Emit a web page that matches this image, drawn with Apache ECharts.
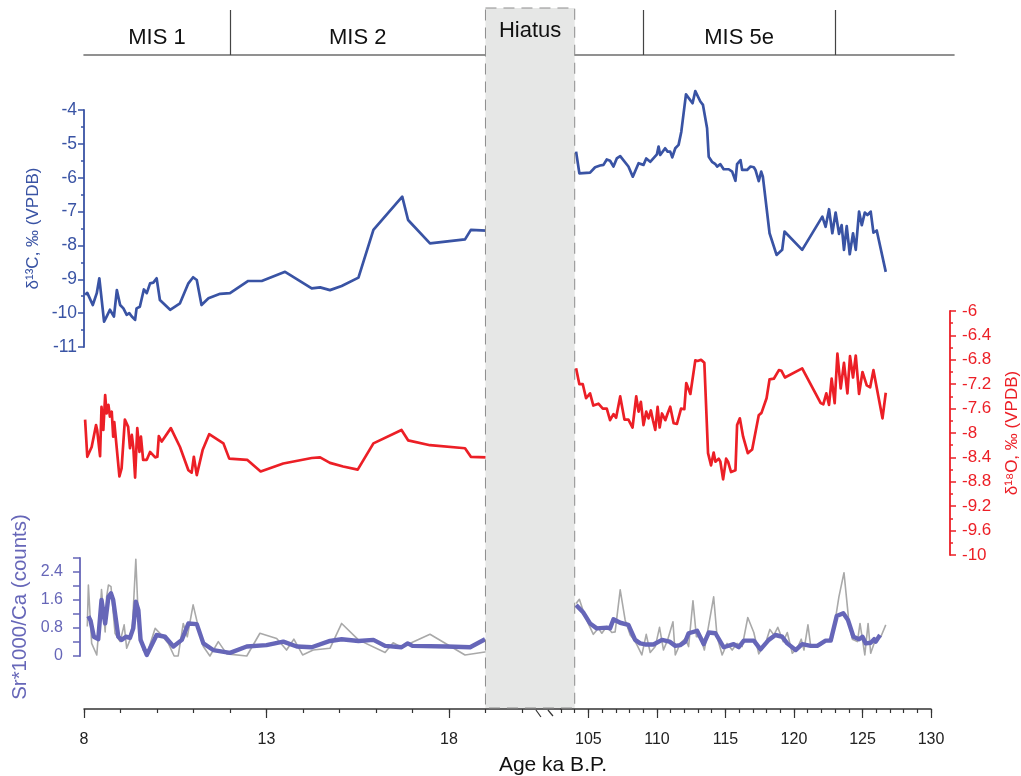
<!DOCTYPE html>
<html>
<head>
<meta charset="utf-8">
<title>Speleothem isotopes and Sr/Ca</title>
<script src="https://cdn.jsdelivr.net/npm/echarts@6/dist/echarts.min.js"></script>
<style>
html, body { margin: 0; padding: 0; background: #fff; }
#main { width: 1021px; height: 776px; }
</style>
</head>
<body>
<div id="main"></div>
<script>
// ages in ka B.P.
var c13LeftAge = [8.03, 8.09, 8.24, 8.35, 8.42, 8.55, 8.62, 8.71, 8.82, 8.90, 8.99, 9.08, 9.17, 9.24, 9.31, 9.40, 9.44, 9.53, 9.64, 9.72, 9.81, 9.90, 9.99, 10.08, 10.36, 10.63, 10.86, 10.99, 11.09, 11.22, 11.41, 11.73, 12.0, 12.5, 12.87, 13.51, 14.24, 14.47, 14.74, 15.06, 15.52, 15.93, 16.72, 16.88, 17.48, 18.44, 18.6, 19.03];
var c13LeftVal = [-9.46, -9.40, -9.76, -9.41, -8.97, -10.25, -10.1, -9.9, -10.1, -9.32, -9.76, -9.86, -10.05, -10.0, -10.1, -10.2, -9.86, -9.81, -9.3, -9.41, -9.12, -9.1, -8.97, -9.61, -9.9, -9.71, -9.12, -8.94, -9.02, -9.76, -9.56, -9.43, -9.41, -9.05, -9.05, -8.78, -9.27, -9.24, -9.32, -9.2, -8.95, -7.54, -6.56, -7.25, -7.94, -7.82, -7.54, -7.56];

var c13RightAge = [104.1, 104.34, 105.12, 105.49, 105.85, 106.1, 106.34, 106.58, 106.83, 107.07, 107.32, 107.92, 108.24, 108.66, 109.02, 109.22, 109.51, 110.0, 110.12, 110.24, 110.6, 110.78, 110.97, 111.12, 111.34, 111.58, 111.78, 112.12, 112.6, 112.8, 113.17, 113.36, 113.66, 113.78, 114.02, 114.27, 114.39, 114.63, 114.87, 115.24, 115.49, 115.73, 115.85, 116.1, 116.22, 116.58, 116.83, 117.07, 117.19, 117.43, 117.61, 117.73, 118.22, 118.73, 119.14, 119.31, 120.6, 122.07, 122.31, 122.56, 122.8, 123.04, 123.29, 123.48, 123.65, 123.85, 124.07, 124.31, 124.51, 124.75, 124.95, 125.17, 125.36, 125.6, 125.8, 126.04, 126.7];
var c13RightVal = [-5.23, -5.87, -5.85, -5.69, -5.64, -5.62, -5.46, -5.5, -5.67, -5.43, -5.36, -5.67, -5.97, -5.57, -5.62, -5.43, -5.53, -5.31, -5.08, -5.33, -5.13, -5.23, -5.23, -5.4, -5.13, -5.03, -4.64, -3.54, -3.8, -3.44, -3.75, -3.85, -4.54, -5.38, -5.53, -5.6, -5.67, -5.6, -5.75, -5.75, -5.82, -6.09, -5.6, -5.48, -5.77, -5.77, -5.67, -5.69, -5.77, -6.1, -5.82, -5.97, -7.64, -8.28, -8.13, -7.59, -8.13, -7.15, -7.45, -6.93, -7.64, -7.03, -7.66, -7.4, -8.13, -7.43, -8.26, -7.64, -8.13, -7.0, -7.4, -7.03, -7.1, -7.0, -7.62, -7.56, -8.78];

var o18LeftAge = [8.03, 8.09, 8.21, 8.33, 8.36, 8.44, 8.48, 8.53, 8.58, 8.62, 8.67, 8.71, 8.76, 8.80, 8.83, 8.97, 9.03, 9.12, 9.21, 9.26, 9.31, 9.35, 9.40, 9.46, 9.52, 9.56, 9.62, 9.72, 9.81, 9.95, 10.01, 10.05, 10.13, 10.38, 10.63, 10.86, 10.95, 11.01, 11.09, 11.25, 11.43, 11.82, 11.98, 12.47, 12.84, 13.46, 14.24, 14.47, 14.74, 15.1, 15.5, 15.93, 16.7, 16.88, 17.48, 18.44, 18.6, 19.03];
var o18LeftVal = [-7.78, -8.39, -8.23, -7.87, -7.95, -8.38, -7.57, -7.95, -7.38, -7.68, -7.54, -7.73, -7.65, -8.06, -7.82, -8.71, -8.58, -7.78, -7.9, -8.25, -8.03, -8.23, -8.73, -7.92, -8.31, -8.06, -8.44, -8.44, -8.31, -8.4, -8.39, -8.05, -8.14, -7.92, -8.23, -8.61, -8.65, -8.39, -8.69, -8.28, -8.02, -8.17, -8.42, -8.44, -8.63, -8.5, -8.41, -8.4, -8.49, -8.55, -8.6, -8.17, -7.95, -8.12, -8.2, -8.25, -8.39, -8.4];

var o18RightAge = [104.1, 104.34, 104.59, 104.83, 105.12, 105.36, 105.73, 106.05, 106.34, 106.58, 106.83, 107.02, 107.32, 107.63, 107.92, 108.22, 108.49, 108.66, 108.83, 109.02, 109.22, 109.39, 109.56, 109.71, 109.88, 110.05, 110.2, 110.37, 110.61, 110.78, 110.97, 111.22, 111.46, 111.76, 112.0, 112.14, 112.44, 112.8, 112.97, 113.22, 113.46, 113.73, 113.95, 114.14, 114.27, 114.51, 114.63, 114.83, 115.05, 115.19, 115.41, 115.73, 115.85, 116.05, 116.29, 116.63, 116.95, 117.43, 117.63, 118.0, 118.22, 118.53, 118.9, 119.09, 119.34, 120.6, 121.95, 122.14, 122.36, 122.56, 122.75, 122.97, 123.17, 123.41, 123.65, 123.9, 124.09, 124.31, 124.51, 124.75, 125.0, 125.31, 125.56, 125.8, 126.46, 126.7];
var o18RightVal = [-6.94, -7.2, -7.2, -7.43, -7.35, -7.55, -7.52, -7.6, -7.6, -7.79, -7.69, -7.75, -7.4, -7.78, -7.78, -7.91, -7.4, -7.65, -7.49, -7.87, -7.65, -7.76, -7.63, -7.79, -7.95, -7.57, -7.91, -7.68, -7.79, -7.68, -7.57, -7.84, -7.85, -7.6, -7.61, -7.18, -7.36, -6.81, -6.82, -6.8, -6.85, -8.33, -8.53, -8.32, -8.47, -8.42, -8.47, -8.76, -8.42, -8.47, -8.64, -8.61, -7.87, -7.76, -8.06, -8.33, -8.27, -7.71, -7.67, -7.43, -7.12, -7.11, -6.97, -6.98, -7.09, -6.94, -7.51, -7.53, -7.35, -7.54, -7.11, -7.51, -6.7, -7.27, -6.85, -7.35, -6.74, -7.09, -6.73, -7.36, -7.0, -7.22, -7.25, -6.97, -7.76, -7.34];

var srRawLeftAge = [8.09, 8.12, 8.21, 8.35, 8.44, 8.48, 8.58, 8.62, 8.67, 8.74, 8.85, 8.99, 9.10, 9.17, 9.26, 9.33, 9.42, 9.49, 9.62, 9.76, 9.95, 10.08, 10.31, 10.47, 10.58, 10.72, 10.83, 10.99, 11.13, 11.27, 11.45, 11.68, 11.91, 12.46, 12.82, 13.28, 13.55, 13.75, 13.99, 14.28, 14.74, 15.06, 15.52, 16.25, 16.47, 16.7, 17.48, 18.44, 19.03];
var srRawLeftVal = [0.84, 2.03, 0.36, 0.03, 1.22, 1.9, 0.69, 1.69, 2.03, 1.98, 0.65, 0.41, 0.89, 0.22, 0.46, 0.93, 2.76, 1.03, 0.17, 0.17, 0.79, 0.65, 0.36, 0.0, 0.0, 0.93, 0.55, 1.46, 0.84, 0.27, 0.0, 0.41, 0.06, 0.0, 0.65, 0.5, 0.17, 0.48, 0.03, 0.17, 0.22, 0.93, 0.46, 0.1, 0.38, 0.25, 0.62, 0.03, 0.12];

var srSmoothLeftAge = [8.12, 8.18, 8.27, 8.39, 8.48, 8.58, 8.67, 8.74, 8.80, 8.94, 9.03, 9.15, 9.26, 9.35, 9.42, 9.49, 9.55, 9.72, 9.99, 10.22, 10.45, 10.68, 10.86, 11.09, 11.27, 11.54, 12.0, 12.46, 13.0, 13.46, 13.83, 14.24, 14.74, 15.06, 15.52, 15.93, 16.25, 16.7, 16.87, 17.0, 17.94, 18.58, 18.99];
var srSmoothLeftVal = [1.14, 1.01, 0.55, 0.48, 1.6, 0.93, 1.69, 1.79, 1.6, 0.55, 0.46, 0.55, 0.52, 0.79, 1.55, 1.31, 0.46, 0.03, 0.6, 0.55, 0.27, 0.46, 0.93, 0.91, 0.36, 0.17, 0.09, 0.27, 0.31, 0.41, 0.27, 0.25, 0.43, 0.48, 0.43, 0.46, 0.29, 0.25, 0.36, 0.29, 0.27, 0.25, 0.48];

var srRawRightAge = [104.1, 104.34, 104.76, 105.36, 105.73, 105.98, 106.34, 106.71, 106.95, 107.32, 107.68, 108.05, 108.34, 108.58, 108.9, 109.22, 109.51, 109.88, 110.19, 110.48, 110.78, 111.17, 111.34, 111.7, 112.07, 112.31, 112.63, 112.88, 113.17, 113.46, 114.14, 114.39, 114.76, 115.12, 115.49, 115.85, 116.22, 116.63, 117.07, 117.43, 117.92, 118.24, 118.53, 118.82, 119.22, 119.51, 119.88, 120.24, 120.53, 120.73, 121.02, 121.22, 121.46, 121.95, 122.31, 122.8, 123.28, 123.65, 124.02, 124.26, 124.63, 124.82, 125.17, 125.41, 125.6, 125.97, 126.34, 126.7];
var srRawRightVal = [1.5, 1.62, 1.12, 0.62, 0.79, 0.65, 0.84, 0.67, 0.69, 1.89, 1.03, 0.6, 0.46, 0.29, 0.03, 0.62, 0.1, 0.27, 0.82, 0.17, 0.46, 0.98, 0.03, 0.36, 0.5, 0.27, 1.58, 0.55, 0.55, 0.17, 1.69, 0.55, 0.03, 0.36, 0.17, 0.36, 0.27, 1.1, 0.67, 0.06, 0.36, 0.76, 0.6, 0.82, 0.41, 0.67, 0.08, 0.22, 0.48, 0.17, 0.89, 0.29, 0.25, 0.31, 0.44, 0.5, 1.69, 2.38, 0.93, 0.48, 0.41, 0.93, 0.03, 0.93, 0.08, 0.5, 0.55, 0.89];

var srSmoothRightAge = [104.1, 104.63, 105.12, 105.61, 106.34, 106.58, 106.83, 107.32, 107.92, 108.41, 108.78, 109.14, 109.75, 110.37, 110.92, 111.34, 111.7, 112.07, 112.31, 112.93, 113.41, 113.78, 114.27, 114.87, 115.6, 115.97, 116.34, 117.07, 117.56, 118.16, 118.65, 119.14, 119.51, 120.12, 120.6, 121.22, 121.7, 122.31, 122.68, 123.12, 123.6, 123.94, 124.34, 124.75, 125.0, 125.24, 125.6, 125.85, 125.97, 126.28];
var srSmoothRightVal = [1.46, 1.24, 0.93, 0.79, 0.81, 0.79, 1.05, 0.95, 0.89, 0.46, 0.36, 0.33, 0.33, 0.46, 0.41, 0.29, 0.31, 0.41, 0.65, 0.72, 0.34, 0.67, 0.65, 0.25, 0.34, 0.25, 0.44, 0.44, 0.19, 0.46, 0.6, 0.55, 0.36, 0.17, 0.34, 0.29, 0.29, 0.44, 0.44, 1.14, 1.22, 1.03, 0.55, 0.48, 0.55, 0.36, 0.38, 0.48, 0.41, 0.6];

// marine isotope stages, hiatus, tick labels
var misBoundLeft = [12];
var misBoundRight = [109, 123];
var misZones = [
  { name: 'MIS 1', from: 8, to: 12, side: 0 },
  { name: 'MIS 2', from: 12, to: 19, side: 0 },
  { name: 'MIS 5e', from: 109, to: 123, side: 1 }
];
var hiatusFrom = 19, hiatusTo = 104;
var xLabelsLeft = [8, 13, 18];
var xLabelsRight = [105, 110, 115, 120, 125, 130];

var C13 = '#3953a4', O18 = '#ec1f26', SR = '#6666b8', RAW = '#a9a9a9', AX = '#333';
var FONT = 'Liberation Sans, Arial, sans-serif';

function zip(a, b) {
  var out = [];
  for (var i = 0; i < a.length; i++) out.push([a[i], b[i]]);
  return out;
}
function range(a, b) {
  var out = [];
  for (var v = a; v <= b; v++) out.push(v);
  return out;
}

// layout: left piece 8..21.07 ka (36.5 px/ka), right piece 103..130 ka (13.7 px/ka)
var L = { left: 84, width: 477, min: 8, max: 21.07 };
var R = { left: 561, width: 370, min: 103, max: 130 };
var rows = {
  band: { top: 10, height: 45 },
  c13: { top: 110, height: 237 },
  o18: { top: 311, height: 244 },
  sr: { top: 558, height: 98 }
};

var myChart = echarts.init(document.getElementById('main'));

var grid = [], xAxis = [], yAxis = [];
['band', 'c13', 'o18', 'sr'].forEach(function (k) {
  var r = rows[k];
  grid.push({ left: L.left, width: L.width, top: r.top, height: r.height, outerBoundsMode: 'none' });
  grid.push({ left: R.left, width: k === 'band' ? 393 : R.width, top: r.top, height: r.height, outerBoundsMode: 'none' });
});

function hiddenX(gi, seg) {
  return { type: 'value', gridIndex: gi, min: seg.min, max: seg.max, show: false, axisLine: { onZero: false } };
}
// band axes (horizontal rule under MIS labels)
var bandLine = { show: true, onZero: false, lineStyle: { color: '#6e6e6e', width: 1.6 } };
xAxis.push({ type: 'value', gridIndex: 0, min: L.min, max: L.max, axisLine: bandLine, axisTick: { show: false }, axisLabel: { show: false }, splitLine: { show: false } });
xAxis.push({ type: 'value', gridIndex: 1, min: R.min, max: R.min + 393 / 13.7, axisLine: bandLine, axisTick: { show: false }, axisLabel: { show: false }, splitLine: { show: false } });
xAxis.push(hiddenX(2, L), hiddenX(3, R), hiddenX(4, L), hiddenX(5, R));
// bottom age axis: short ticks every 1 ka
[[6, L, range(8, 20)], [7, R, range(103, 130)]].forEach(function (d) {
  xAxis.push({
    type: 'value', gridIndex: d[0], min: d[1].min, max: d[1].max, position: 'bottom', offset: 53,
    axisLine: { show: true, onZero: false, lineStyle: { color: AX, width: 1.5 } },
    axisTick: { show: true, length: 4, customValues: d[2], lineStyle: { color: AX, width: 1.2 } },
    axisLabel: { show: false }, splitLine: { show: false }
  });
});
// long ticks with labels
[[6, L, xLabelsLeft], [7, R, xLabelsRight]].forEach(function (d) {
  xAxis.push({
    type: 'value', gridIndex: d[0], min: d[1].min, max: d[1].max, position: 'bottom', offset: 53,
    axisLine: { show: false, onZero: false },
    axisTick: { show: true, length: 9, customValues: d[2], lineStyle: { color: AX, width: 1.2 } },
    axisLabel: { show: true, customValues: d[2], margin: 23, color: '#222', fontSize: 16, fontFamily: FONT },
    splitLine: { show: false }
  });
});

function hiddenY(gi, min, max) {
  return { type: 'value', gridIndex: gi, min: min, max: max, show: false, splitLine: { show: false } };
}
yAxis.push(hiddenY(0, 0, 1), hiddenY(1, 0, 1));
yAxis.push({
  type: 'value', gridIndex: 2, min: -11, max: -4, interval: 1, position: 'left',
  axisLine: { show: true, lineStyle: { color: C13, width: 1.8 } },
  axisTick: { show: true, length: 6, lineStyle: { color: C13, width: 1.5 } },
  minorTick: { show: true, splitNumber: 2, length: 3, lineStyle: { color: C13, width: 1.5 } },
  axisLabel: { color: C13, fontSize: 17.5, margin: 7, fontFamily: FONT },
  splitLine: { show: false },
  name: 'δ¹³C, ‰ (VPDB)', nameLocation: 'middle', nameRotate: 90, nameGap: 42, nameMoveOverlap: false,
  nameTextStyle: { color: C13, fontSize: 17, fontFamily: FONT }
});
yAxis.push(hiddenY(3, -11, -4));
yAxis.push(hiddenY(4, -10, -6));
yAxis.push({
  type: 'value', gridIndex: 5, min: -10, max: -6, interval: 0.4, position: 'right', offset: 19,
  axisLine: { show: true, lineStyle: { color: O18, width: 1.8 } },
  axisTick: { show: true, length: 6, lineStyle: { color: O18, width: 1.5 } },
  minorTick: { show: true, splitNumber: 2, length: 3, lineStyle: { color: O18, width: 1.5 } },
  axisLabel: { color: O18, fontSize: 17, margin: 12, fontFamily: FONT },
  splitLine: { show: false },
  name: 'δ¹⁸O, ‰ (VPDB)', nameLocation: 'middle', nameRotate: 90, nameGap: 54, nameMoveOverlap: false,
  nameTextStyle: { color: O18, fontSize: 17, fontFamily: FONT }
});
yAxis.push({
  type: 'value', gridIndex: 6, min: 0, max: 2.8, interval: 0.4, position: 'left', offset: 4,
  axisLine: { show: true, lineStyle: { color: SR, width: 1.8 } },
  axisTick: { show: true, length: 7, lineStyle: { color: SR, width: 1.5 } },
  axisLabel: {
    color: SR, fontSize: 16, margin: 17, fontFamily: FONT,
    formatter: function (v) {
      var k = v / 0.8;
      return Math.abs(k - Math.round(k)) < 1e-6 ? String(+v.toFixed(1)) : '';
    }
  },
  splitLine: { show: false },
  name: 'Sr*1000/Ca (counts)', nameLocation: 'middle', nameRotate: 90, nameGap: 49, nameMoveOverlap: false,
  nameTextStyle: { color: SR, fontSize: 20.5, fontFamily: FONT }
});
yAxis.push(hiddenY(7, 0, 2.8));

function lineSeries(name, xi, yi, data, color, width, z) {
  return {
    name: name, type: 'line', xAxisIndex: xi, yAxisIndex: yi, data: data,
    showSymbol: false, symbol: 'none', z: z || 2, clip: false,
    lineStyle: { color: color, width: width, join: 'round' }
  };
}

function misSeries(side, bounds) {
  return {
    type: 'line', xAxisIndex: side, yAxisIndex: side, data: [], silent: true,
    markLine: {
      symbol: ['none', 'none'], silent: true, label: { show: false },
      lineStyle: { type: 'solid', color: '#444', width: 1.2 },
      data: bounds.map(function (b) { return { xAxis: b }; })
    },
    markArea: {
      silent: true, itemStyle: { color: 'rgba(0,0,0,0)' },
      label: { show: true, position: 'inside', offset: [0, 5], color: '#111', fontSize: 22, fontFamily: FONT },
      data: misZones.filter(function (z) { return z.side === side; }).map(function (z) {
        return [{ xAxis: z.from, name: z.name }, { xAxis: z.to }];
      })
    }
  };
}

var option = {
  animation: false,
  backgroundColor: '#fff',
  textStyle: { fontFamily: FONT },
  grid: grid,
  xAxis: xAxis,
  yAxis: yAxis,
  series: [
    misSeries(0, misBoundLeft),
    misSeries(1, misBoundRight),
    lineSeries('δ13C', 2, 2, zip(c13LeftAge, c13LeftVal), C13, 2.7),
    lineSeries('δ13C', 3, 3, zip(c13RightAge, c13RightVal), C13, 2.7),
    lineSeries('δ18O', 4, 4, zip(o18LeftAge, o18LeftVal), O18, 2.7),
    lineSeries('δ18O', 5, 5, zip(o18RightAge, o18RightVal), O18, 2.7),
    lineSeries('Sr raw', 6, 6, zip(srRawLeftAge, srRawLeftVal), RAW, 1.6, 2),
    lineSeries('Sr raw', 7, 7, zip(srRawRightAge, srRawRightVal), RAW, 1.6, 2),
    lineSeries('Sr smooth', 6, 6, zip(srSmoothLeftAge, srSmoothLeftVal), SR, 4.4, 3),
    lineSeries('Sr smooth', 7, 7, zip(srSmoothRightAge, srSmoothRightVal), SR, 4.4, 3)
  ]
};
myChart.setOption(option);

// hiatus box and axis break, placed from the age scales
var hx0 = myChart.convertToPixel({ xAxisIndex: 6 }, hiatusFrom);
var hx1 = myChart.convertToPixel({ xAxisIndex: 7 }, hiatusTo);
var bx = myChart.convertToPixel({ xAxisIndex: 6 }, 20);
var axisY = rows.sr.top + rows.sr.height + 53;
myChart.setOption({
  graphic: [
    {
      type: 'rect', z: 50, silent: true,
      shape: { x: hx0, y: 8, width: hx1 - hx0, height: axisY - 9 },
      style: { fill: '#e6e7e6', stroke: '#8c8c8c', lineWidth: 1, lineDash: [11, 7] }
    },
    {
      type: 'text', z: 51, silent: true, x: (hx0 + hx1) / 2, y: 31,
      style: { text: 'Hiatus', fill: '#111', font: '22px ' + FONT, textAlign: 'center', textVerticalAlign: 'middle' }
    },
    {
      type: 'line', z: 51, silent: true,
      shape: { x1: bx + 14, y1: axisY + 1, x2: bx + 19, y2: axisY + 8 },
      style: { stroke: AX, lineWidth: 1.2 }
    },
    {
      type: 'line', z: 51, silent: true,
      shape: { x1: bx + 26, y1: axisY + 1, x2: bx + 31, y2: axisY + 7 },
      style: { stroke: AX, lineWidth: 1.2 }
    },
    {
      type: 'text', silent: true, x: 553, y: 765,
      style: { text: 'Age ka B.P.', fill: '#111', font: '21px ' + FONT, textAlign: 'center', textVerticalAlign: 'middle' }
    }
  ]
});
</script>
</body>
</html>
